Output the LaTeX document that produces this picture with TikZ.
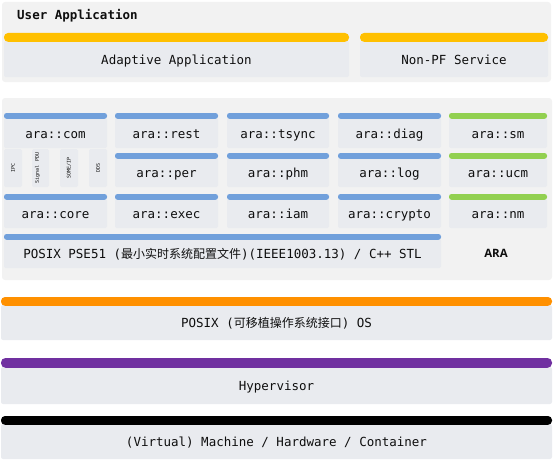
\documentclass[tikz,border=0pt]{standalone}
\usepackage{fontspec}
\setmonofont{DejaVu Sans Mono}
\newfontfamily\cjkfont{Noto Sans CJK SC}[Scale=0.96]
\newfontfamily\arafont{Open Sans}
\definecolor{outerc}{HTML}{F2F2F2}
\definecolor{boxc}{HTML}{E9EBEF}
\definecolor{txtc}{HTML}{0E0E0E}
\definecolor{bluec}{HTML}{71A0DB}
\definecolor{greenc}{HTML}{92D050}
\definecolor{yellowc}{HTML}{FFC000}
\definecolor{orangec}{HTML}{FF9000}
\definecolor{purplec}{HTML}{7030A0}
\tikzset{
  outerbox/.style={fill=outerc, rounded corners=3pt, inner sep=0pt, outer sep=0pt},
  modbox/.style={fill=boxc, rounded corners=2pt, inner sep=0pt, outer sep=0pt, text=txtc,
    text height=10.5pt, text depth=0pt,
    font=\ttfamily\fontsize{12.5}{14}\selectfont},
  subbox/.style={fill=boxc, rounded corners=1.5pt, inner sep=0pt, outer sep=0pt},
  tinytext/.style={font=\ttfamily\fontsize{5}{6}\selectfont, rotate=90, text=txtc, inner sep=0pt},
  headtext/.style={font=\ttfamily\bfseries\fontsize{12.5}{14}\selectfont, text=txtc, inner sep=0pt},
  aratext/.style={font=\arafont\bfseries\fontsize{11.5}{13}\selectfont, text=txtc, inner sep=0pt}
}
% #1 name, #2 x1, #3 x2, #4 bar top, #5 bar thickness, #6 bottom, #7 colour, #8 text
\newcommand\archmod[8]{%
  \node[modbox, minimum width={(#3)-(#2)}, minimum height={(#6)-(#4)-(#5)}, anchor=north west]
    (#1) at (#2,{#4+#5}) {#8};
  \fill[#7, rounded corners={#5*0.5pt}] (#2,#4) rectangle (#3,{#4+#5+0.8});
}
\begin{document}
\begin{tikzpicture}[x=1pt,y=-1pt]
\useasboundingbox (0,0) rectangle (553,460);
% ---------- User Application ----------
\node[outerbox, minimum width=549, minimum height=80, anchor=north west] (userapp) at (2,2) {};
\node[headtext, anchor=west] (userlbl) at (17,16) {User Application};
\archmod{adaptive}{4}{349}{33}{8}{77}{yellowc}{Adaptive Application}
\archmod{nonpf}{360}{548}{33}{8}{77}{yellowc}{Non-PF Service}
% ---------- ARA ----------
\node[outerbox, minimum width=550, minimum height=182, anchor=north west] (aragroup) at (2,98) {};
% row 1
\archmod{com}{4}{107}{113}{5}{148}{bluec}{ara::com}
\archmod{rest}{115}{218}{113}{5}{148}{bluec}{ara::rest}
\archmod{tsync}{227}{329}{113}{5}{148}{bluec}{ara::tsync}
\archmod{diag}{338}{441}{113}{5}{148}{bluec}{ara::diag}
\archmod{sm}{449}{547}{113}{5}{148}{greenc}{ara::sm}
% row 2
\node[subbox, minimum width=18, minimum height=38, anchor=north west] (ipc) at (4,149) {};
\node[subbox, minimum width=17, minimum height=38, anchor=north west] (spdu) at (32,149) {};
\node[subbox, minimum width=18, minimum height=38, anchor=north west] (someip) at (60,149) {};
\node[subbox, minimum width=18, minimum height=38, anchor=north west] (dds) at (89,149) {};
\node[tinytext] (ipct) at (ipc.center) {IPC};
\node[tinytext] (spdut) at ([xshift=-3pt]spdu.center) {Signal PDU};
\node[tinytext] (someipt) at (someip.center) {SOME/IP};
\node[tinytext] (ddst) at (dds.center) {DDS};
\archmod{per}{115}{218}{153}{5}{187}{bluec}{ara::per}
\archmod{phm}{227}{329}{153}{5}{187}{bluec}{ara::phm}
\archmod{log}{338}{441}{153}{5}{187}{bluec}{ara::log}
\archmod{ucm}{449}{547}{153}{5}{187}{greenc}{ara::ucm}
% row 3
\archmod{core}{4}{107}{194}{5}{228}{bluec}{ara::core}
\archmod{exec}{115}{218}{194}{5}{228}{bluec}{ara::exec}
\archmod{iam}{227}{329}{194}{5}{228}{bluec}{ara::iam}
\archmod{crypto}{338}{441}{194}{5}{228}{bluec}{ara::crypto}
\archmod{nm}{449}{547}{194}{5}{228}{greenc}{ara::nm}
% row 4
\archmod{pse}{4}{441}{234}{5}{268}{bluec}{POSIX PSE51 ({\cjkfont 最小实时系统配置文件})(IEEE1003.13) / C++ STL}
\node[aratext] (ara) at (496,253) {ARA};
% ---------- OS / Hypervisor / Machine ----------
\archmod{os}{1}{552}{297}{8}{340}{orangec}{POSIX ({\cjkfont 可移植操作系统接口}) OS}
\archmod{hyper}{1}{552}{358}{9}{404}{purplec}{Hypervisor}
\archmod{machine}{1}{552}{416}{8}{459}{black}{(Virtual) Machine / Hardware / Container}
\end{tikzpicture}
\end{document}
